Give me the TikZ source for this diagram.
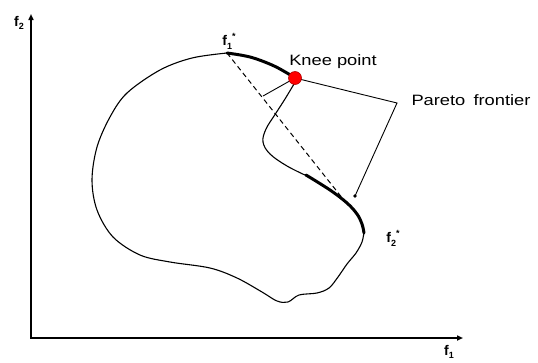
\documentclass[tikz,border=0pt]{standalone}
\usepackage{fontspec}
\setmainfont{Liberation Sans}
\usetikzlibrary{arrows.meta}
\newcommand\lowidx[1]{\raisebox{-0.45ex}{\fontsize{9}{9}\selectfont #1}}
\newcommand\hiidx[1]{\raisebox{0.9ex}{\fontsize{9}{9}\selectfont #1}}
\tikzset{
  axisline/.style={line width=1.8pt, -{Triangle[length=6pt,width=5pt]}},
  region/.style={line width=1.1pt, line join=round, line cap=round},
  frontier/.style={line width=3pt, line cap=round},
  lbl/.style={inner sep=0pt, font=\fontsize{15}{15}\selectfont, xscale=1.22, transform shape},
  axlbl/.style={inner sep=0pt, font=\fontsize{14}{14}\selectfont\bfseries},
  leader/.style={line width=0.9pt},
  dashline/.style={line width=1pt, dash pattern=on 5pt off 3.5pt},
}
\begin{document}
\begin{tikzpicture}[x=1pt,y=-1pt]
\useasboundingbox (0,0) rectangle (538,362);
% axes
\coordinate (O) at (31,338);
\coordinate (ytop) at (31,14);
\coordinate (xend) at (463,338);
\draw[axisline] (O) -- (ytop);
\draw[axisline] ([xshift=-1pt]O) -- (xend);
\node[axlbl] (f2ax) at (19,23) {f\lowidx{2}};
\node[axlbl] (f1ax) at (449,352) {f\lowidx{1}};
% points
\coordinate (f1s) at (227,53);
\coordinate (f2s) at (364,233);
\coordinate (knee) at (295,78);
\coordinate (foot) at (263,96);
\coordinate (dashend) at (347,204);
\coordinate (bend) at (397,103);
\coordinate (tip) at (355,196);
% region boundary (thin)
\draw[region] plot[smooth, tension=0.55] coordinates {(227,53) (192,58) (160,70) (127,93) (110,117) (97,147) (92,180) (97,210) (113,237) (140,255) (170,262) (210,268) (237,278) (262,292) (277,301) (288,302) (299,295) (317,293) (329,288) (338,277) (347,264) (356,253) (362,242) (364,232)};
\draw[region] plot[smooth, tension=0.6] coordinates {(294,84) (285,99) (276,113) (266,129) (263,142) (270,154) (287,166) (307,176)};
% Pareto frontier (thick)
\draw[frontier] plot[smooth, tension=0.6] coordinates {(f1s) (250,57) (272,65) (287,73) (knee)};
\draw[frontier] plot[smooth, tension=0.6] coordinates {(306,175) (330,190) (347,203) (357,214) (362,224) (f2s)};
% dashed line and perpendicular
\draw[dashline] (f1s) -- (dashend);
\draw[leader] (knee) -- (foot);
% leader to label
\draw[leader] (knee) -- (bend) -- (tip);
\fill (tip) circle (1.8pt);
% knee point
\node[circle, fill=red, draw=red!70!black, line width=0.6pt, minimum size=13pt, inner sep=0pt] (kp) at (knee) {};
% labels
\node[axlbl] (f1lbl) at (229,41) {f\lowidx{1}\hiidx{*}};
\node[axlbl] (f2lbl) at (393,238) {f\lowidx{2}\hiidx{*}};
\node[lbl] (kneelbl) at (333,62) {Knee point};
\node[lbl] (parlbl) at (471,100) {Pareto\, frontier};
\end{tikzpicture}
\end{document}
